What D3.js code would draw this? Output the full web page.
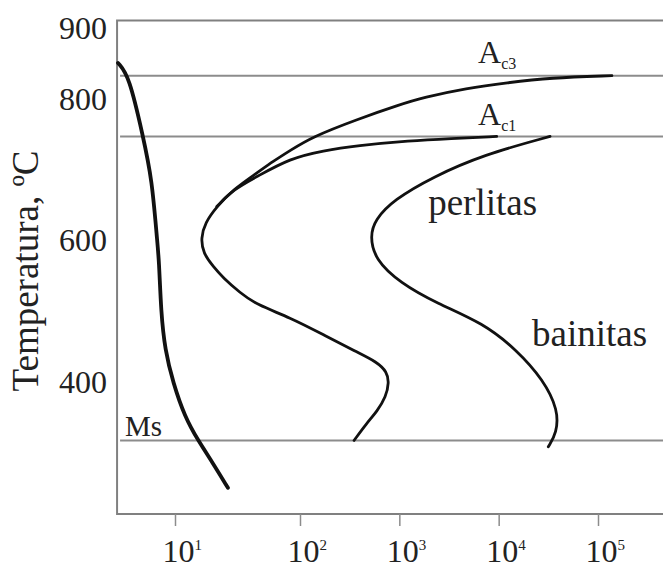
<!DOCTYPE html>
<html>
<head>
<meta charset="utf-8">
<script src="https://cdn.jsdelivr.net/npm/d3@7"></script>
<style>
  html, body { margin: 0; padding: 0; background: #fff; }
  svg { display: block; }
  text { font-family: "Liberation Serif", "Times New Roman", serif; fill: #222; }
</style>
</head>
<body>
<svg id="chart" width="663" height="570"></svg>
<script>
// Time axis (s, logarithmic) and temperature axis (°C)
const xTickValues = [10, 100, 1000, 10000, 100000];
const xTickExponents = ["1", "2", "3", "4", "5"];
const yTickValues = [400, 600, 800, 900];

// Critical temperature lines
const refLineNames = ["Ac3", "Ac1", "Ms"];
const refLineTemps = [833, 747, 317];

// Cooling curve (time s, temperature °C)
const coolingCurve = [
  [3.5, 851], [4.29, 833], [5.55, 747], [6.55, 686], [7.18, 601], [7.45, 573],
  [7.73, 498], [8.32, 445], [9.64, 399], [12.0, 350], [15.3, 317], [20.1, 285], [26.5, 250]
];

// Transformation start curve: from Ac3 through the pearlite nose, bainite bay, down to Ms
const startCurve = [
  [138000, 833], [32900, 830], [12100, 823], [4760, 815], [1730, 802], [1016, 792],
  [372, 771], [131, 746], [83.2, 727], [61.1, 712], [45, 695], [29.3, 672],
  [21.6, 648], [17.4, 625], [16.1, 603], [16.8, 582], [20.2, 563], [24.3, 547],
  [33.1, 526], [45, 509], [83.2, 491], [170, 467], [372, 442], [596, 428],
  [751, 414], [787, 399], [734, 379], [596, 358], [473, 342], [350, 317]
];

// Branch of the start curve running to Ac1
const ac1Branch = [
  [21.6, 648], [29.3, 672], [45, 690], [83.2, 716], [172, 727], [372, 734],
  [1281, 741], [3240, 744], [9550, 747]
];

// Transformation finish curve
const finishCurve = [
  [32900, 747], [7000, 721], [2200, 690], [869, 657], [569, 629], [507, 606],
  [569, 573], [1016, 540], [2380, 511], [7000, 483], [15200, 445], [28100, 403],
  [39800, 360], [38400, 328], [31600, 308]
];

// Region labels (text, time anchor, temperature anchor)
const regionLabels = ["perlitas", "bainitas"];
const regionLabelTimes = [1950, 21700];
const regionLabelTemps = [636, 451];

const svg = d3.select("#chart");

// Log time scale (one break at 10 s so the first decade is wider)
const x = d3.scaleLog().domain([10, 100, 100000]).range([175, 300, 598]);
const y = d3.scaleLinear().domain([213, 911]).range([514, 20.5]);

const xMin = 3.44, xMax = 600000;
const frameLeft = x(xMin), frameRight = x(xMax), frameTop = y(911), frameBottom = y(213);

// Frame
svg.append("path")
  .attr("d", `M${frameRight},${frameTop}H${frameLeft}V${frameBottom}H${frameRight}`)
  .attr("fill", "none")
  .attr("stroke", "#808080")
  .attr("stroke-width", 2);

// Critical temperature lines
svg.append("g").selectAll("line")
  .data(refLineTemps)
  .join("line")
  .attr("x1", frameLeft + 3)
  .attr("x2", frameRight)
  .attr("y1", d => y(d))
  .attr("y2", d => y(d))
  .attr("stroke", "#8c8c8c")
  .attr("stroke-width", 2);

// Y axis labels
const yAxis = svg.append("g")
  .attr("transform", `translate(${frameLeft},0)`)
  .call(d3.axisLeft(y).tickValues(yTickValues).tickSize(0).tickPadding(10).tickFormat(d3.format("d")));
yAxis.select(".domain").remove();
yAxis.selectAll("text")
  .style("font-family", '"Liberation Serif", serif')
  .style("font-size", "32px")
  .attr("fill", "#222");

// X axis ticks and labels (10 with superscript exponent)
const xAxis = svg.append("g")
  .attr("transform", `translate(0,${frameBottom})`)
  .call(d3.axisBottom(x).tickValues(xTickValues).tickSizeInner(12).tickSizeOuter(0).tickFormat(() => ""));
xAxis.select(".domain").remove();
xAxis.selectAll(".tick line").attr("stroke", "#8c8c8c").attr("stroke-width", 1.5);
xAxis.selectAll(".tick text").remove();
xAxis.selectAll(".tick").each(function(d, i) {
  const t = d3.select(this).append("text")
    .attr("x", -13)
    .attr("y", 48)
    .attr("text-anchor", "start")
    .style("font-size", "32px")
    .attr("fill", "#222");
  t.append("tspan").text("10");
  t.append("tspan").attr("dy", -12).style("font-size", "15px").text(xTickExponents[i]);
});

// Y axis title
svg.append("text")
  .attr("transform", `translate(38,271) rotate(-90)`)
  .attr("text-anchor", "middle")
  .style("font-size", "37px")
  .text("Temperatura, ºC");

// Curves, smoothed through the read-off points
const line = d3.line()
  .x(d => x(d[0]))
  .y(d => y(d[1]))
  .curve(d3.curveBasis);

svg.append("path")
  .attr("d", line(coolingCurve))
  .attr("fill", "none")
  .attr("stroke", "#111")
  .attr("stroke-width", 3.8)
  .attr("stroke-linecap", "round");

[startCurve, ac1Branch, finishCurve].forEach(c => {
  svg.append("path")
    .attr("d", line(c))
    .attr("fill", "none")
    .attr("stroke", "#111")
    .attr("stroke-width", 2.8)
    .attr("stroke-linecap", "round");
});

// Critical temperature labels
const acX = x(6200);
[0, 1].forEach(i => {
  const t = svg.append("text")
    .attr("x", acX)
    .attr("y", y(refLineTemps[i]) - (i === 0 ? 13 : 11))
    .style("font-size", "32px");
  t.append("tspan").text("A");
  t.append("tspan").attr("dy", 6).style("font-size", "16px").text(refLineNames[i].slice(1).toLowerCase());
});

svg.append("text")
  .attr("x", x(3.98))
  .attr("y", y(refLineTemps[2]) - 4)
  .style("font-size", "29px")
  .text(refLineNames[2]);

// Region labels
svg.append("g").selectAll("text")
  .data(regionLabels)
  .join("text")
  .attr("x", (d, i) => x(regionLabelTimes[i]))
  .attr("y", (d, i) => y(regionLabelTemps[i]))
  .style("font-size", "37px")
  .text(d => d);
</script>
</body>
</html>
